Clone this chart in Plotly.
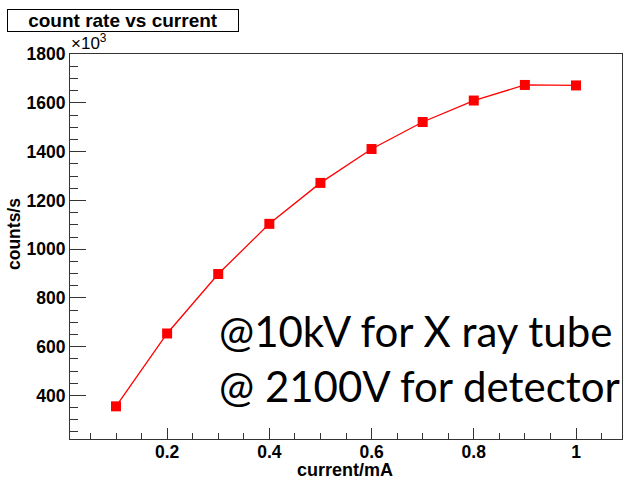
import plotly.graph_objects as go

# Tube current (mA) and measured count rate (units of 10^3 counts/s)
current_ma = [0.1, 0.2, 0.3, 0.4, 0.5, 0.6, 0.7, 0.8, 0.9, 1.0]
rate_k = [355, 654, 898, 1104, 1272, 1411, 1522, 1610, 1674, 1672]

title_text = "count rate vs current"
x_title = "current/mA"
y_title = "counts/s"
note_lines = ["@10kV for X ray tube", "@ 2100V for detector"]

W, H = 638, 478
L, R, T, B = 70, 622, 54, 439  # frame edges in pixels


def px(x):
    return (x - L) / (R - L)


def py(y):
    return (B - y) / (B - T)


fig = go.Figure()
fig.add_trace(go.Scatter(
    x=current_ma, y=rate_k, mode="lines+markers",
    line=dict(color="#ff0000", width=1.3),
    marker=dict(symbol="square", size=10, color="#ff0000"),
    showlegend=False,
))

axis_font = dict(family="Liberation Sans", size=17.5, color="black")
fig.update_xaxes(
    range=[0.01, 1.09], showgrid=False, zeroline=False,
    showline=True, linecolor="#333", linewidth=1, mirror=True,
    ticks="inside", ticklen=11, tickcolor="#333", dtick=0.2, tick0=0,
    tickfont=axis_font, tickprefix="<b>", ticksuffix="</b>",
    ticklabelstandoff=-3,
    minor=dict(ticks="inside", ticklen=6, dtick=0.05, tick0=0, tickcolor="#333"),
)
fig.update_yaxes(
    range=[221, 1801], showgrid=False, zeroline=False,
    showline=True, linecolor="#333", linewidth=1, mirror=True,
    ticks="inside", ticklen=16, tickcolor="#333", dtick=200, tick0=0,
    tickfont=axis_font, tickprefix="<b>", ticksuffix="</b>",
    exponentformat="none",
    minor=dict(ticks="inside", ticklen=8, dtick=50, tick0=0, tickcolor="#333"),
)

annotations = [
    # title box
    dict(x=px(7), y=py(9), xref="paper", yref="paper", xanchor="left", yanchor="top",
         text="<b>" + title_text + "</b>", showarrow=False,
         font=dict(family="Liberation Sans", size=19, color="black"),
         width=230, height=21, bgcolor="white", bordercolor="black", borderwidth=1,
         borderpad=0, align="center", valign="middle"),
    # exponent marker on y axis
    dict(x=px(69), y=py(55), xref="paper", yref="paper", xanchor="left", yanchor="bottom",
         text="×10<sup>3</sup>", showarrow=False,
         font=dict(family="Liberation Sans", size=17, color="black")),
    # axis titles
    dict(x=px(345), y=py(470), xref="paper", yref="paper", xanchor="center", yanchor="middle",
         text="<b>" + x_title + "</b>", showarrow=False,
         font=dict(family="Liberation Sans", size=18, color="black")),
    dict(x=px(14), y=py(234), xref="paper", yref="paper", xanchor="center", yanchor="middle",
         text="<b>" + y_title + "</b>", showarrow=False, textangle=-90,
         font=dict(family="Liberation Sans", size=17.5, color="black")),
]
for i, line in enumerate(note_lines):
    annotations.append(dict(
        x=px(217), y=py(331 + 55 * i), xref="paper", yref="paper",
        xanchor="left", yanchor="middle", text=line, showarrow=False,
        font=dict(family="Lato", size=42, color="black"),
    ))

fig.update_layout(
    width=W, height=H,
    margin=dict(l=L, r=W - R, t=T, b=H - B),
    paper_bgcolor="white", plot_bgcolor="white",
    annotations=annotations,
)

fig.write_html("out.html")
